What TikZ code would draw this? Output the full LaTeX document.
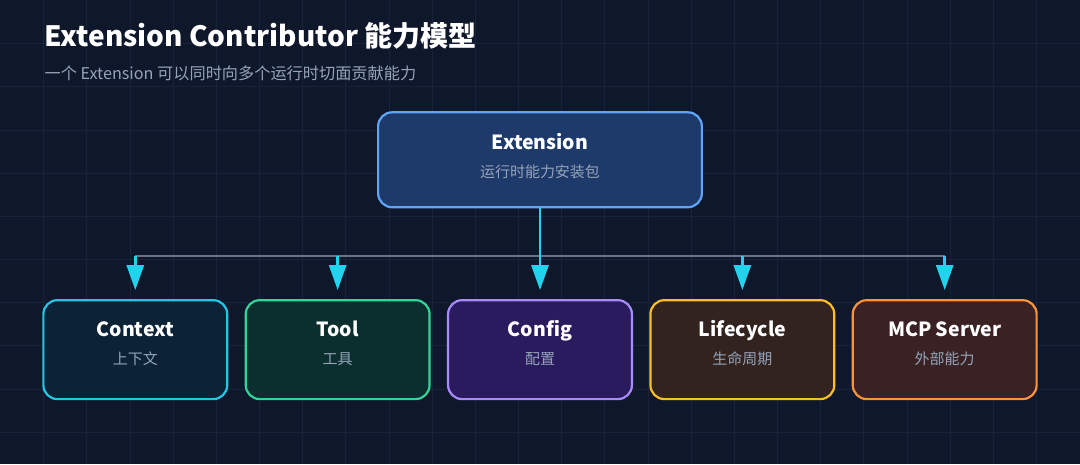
\documentclass[tikz,border=0pt]{standalone}
\usepackage{fontspec}
\setmainfont{Noto Sans CJK SC}
\usetikzlibrary{arrows.meta}

\definecolor{bg}{HTML}{0F172A}
\definecolor{gridc}{HTML}{18223A}
\definecolor{subc}{HTML}{94A3B8}
\definecolor{busc}{HTML}{64748B}
\definecolor{flow}{HTML}{22D3EE}
\definecolor{extline}{HTML}{60A5FA}
\definecolor{extfill}{HTML}{1E3A6A}
\definecolor{ctxline}{HTML}{22C7E6}
\definecolor{ctxfill}{HTML}{0C2236}
\definecolor{toolline}{HTML}{34D399}
\definecolor{toolfill}{HTML}{0B2F2E}
\definecolor{cfgline}{HTML}{A78BFA}
\definecolor{cfgfill}{HTML}{2A1B5E}
\definecolor{lifeline}{HTML}{FBBF24}
\definecolor{lifefill}{HTML}{32231F}
\definecolor{mcpline}{HTML}{FB923C}
\definecolor{mcpfill}{HTML}{3A2224}

\begin{document}
\begin{tikzpicture}[x=1pt,y=-1pt]
    \tikzstyle{box}=[rounded corners=14pt,line width=2.2pt,inner sep=0pt]
    \tikzstyle{root}=[box,draw=extline,fill=extfill,minimum width=324pt,minimum height=95pt]
    \tikzstyle{leaf}=[box,minimum width=184pt,minimum height=99pt]
    \tikzstyle{ttl}=[anchor=base,text=white,font=\fontsize{19.5}{22}\selectfont\bfseries,inner sep=0pt]
    \tikzstyle{sub}=[anchor=base,text=subc,font=\fontsize{15}{18}\selectfont,inner sep=0pt]

    % background and grid
    \fill[bg] (0,0) rectangle (1080,464);
    \foreach \i in {1,...,24} \draw[gridc,line width=0.8pt] (\i*43.2,0) -- (\i*43.2,464);
    \foreach \j in {1,...,10} \draw[gridc,line width=0.8pt] (0,\j*43.2) -- (1080,\j*43.2);
    \useasboundingbox (0,0) rectangle (1080,464);

    % heading
    \node[anchor=base west,inner sep=0pt,text=white,font=\fontsize{28}{32}\selectfont\bfseries] (title) at (44,46) {Extension Contributor 能力模型};
    \node[anchor=base west,inner sep=0pt,text=subc,font=\fontsize{16.2}{18}\selectfont] (subtitle) at (44,79) {一个 Extension 可以同时向多个运行时切面贡献能力};

    % root
    \node[root] (ext) at (540,159.5) {};
    \node[ttl] (ext-t) at (540,149) {Extension};
    \node[sub] (ext-s) at (540,177) {运行时能力安装包};

    % contributors
    \node[leaf,draw=ctxline,fill=ctxfill]   (context) at (135,349.5) {};
    \node[leaf,draw=toolline,fill=toolfill] (tool)    at (337.5,349.5) {};
    \node[leaf,draw=cfgline,fill=cfgfill]   (config)  at (540,349.5) {};
    \node[leaf,draw=lifeline,fill=lifefill] (life)    at (742.5,349.5) {};
    \node[leaf,draw=mcpline,fill=mcpfill]   (mcp)     at (945,349.5) {};

    \node[ttl] (context-t) at (135,336) {Context};
    \node[sub] (context-s) at (135,364) {上下文};
    \node[ttl] (tool-t) at (337.5,336) {Tool};
    \node[sub] (tool-s) at (337.5,364) {工具};
    \node[ttl] (config-t) at (540,336) {Config};
    \node[sub] (config-s) at (540,364) {配置};
    \node[ttl] (life-t) at (742.5,336) {Lifecycle};
    \node[sub] (life-s) at (742.5,364) {生命周期};
    \node[ttl] (mcp-t) at (945,336) {MCP Server};
    \node[sub] (mcp-s) at (945,364) {外部能力};

    % bus
    \coordinate (b1) at (135,256);
    \coordinate (b2) at (337.5,256);
    \coordinate (b3) at (540,256);
    \coordinate (b4) at (742.5,256);
    \coordinate (b5) at (945,256);

    \tikzstyle{fwd} = [draw=flow, line width=2.8pt, -{Triangle[length=25pt,width=17pt]}, shorten >=9pt]

          \draw [busc, line width=2pt] (b1) -- (b5);
          \draw [fwd] (ext) -- (config);
          \draw [fwd] (b1) -- (context);
          \draw [fwd] (b2) -- (tool);
          \draw [fwd] (b4) -- (life);
          \draw [fwd] (b5) -- (mcp);

\end{tikzpicture}
\end{document}
